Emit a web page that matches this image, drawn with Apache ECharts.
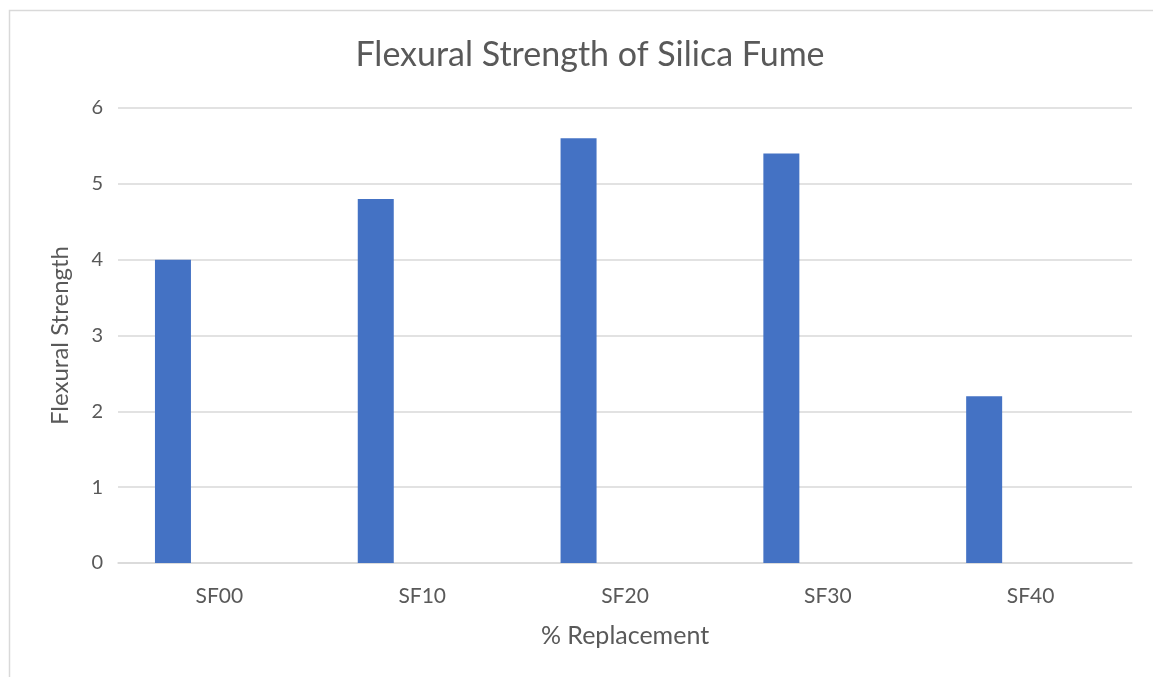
<!DOCTYPE html>
<html>
<head>
<meta charset="utf-8">
<script src="https://cdn.jsdelivr.net/npm/echarts@6/dist/echarts.min.js"></script>
<style>
html,body{margin:0;padding:0;background:#fff;}
#c{width:1153px;height:677px;}
</style>
</head>
<body>
<div id="c"></div>
<script>
const categories = ['SF00', 'SF10', 'SF20', 'SF30', 'SF40'];
const flexuralStrength = [4.0, 4.8, 5.6, 5.4, 2.2];
const emptySeriesA = [null, null, null, null, null];
const emptySeriesB = [null, null, null, null, null];
const yTicks = [0, 1, 2, 3, 4, 5, 6];

const chart = echarts.init(document.getElementById('c'), null, {renderer: 'canvas'});
const font = 'Lato, "Open Sans", sans-serif';
chart.setOption({
  animation: false,
  graphic: [{
    type: 'rect', left: 7, top: 8,
    shape: {width: 1170, height: 700},
    style: {fill: 'none', stroke: '#d9d9d9', lineWidth: 1.5}
  }],
  title: {
    text: 'Flexural Strength of Silica Fume',
    left: 585, top: 33, textAlign: 'center',
    textStyle: {fontFamily: font, fontSize: 34, fontWeight: 'normal', color: '#595959'}
  },
  grid: {left: 118, right: 21, top: 108, bottom: 114},
  xAxis: {
    type: 'category', data: categories,
    axisTick: {show: false},
    axisLine: {lineStyle: {color: '#d9d9d9', width: 1.5}},
    axisLabel: {fontFamily: font, fontSize: 21, color: '#595959', margin: 23},
    name: '% Replacement', nameLocation: 'middle', nameGap: 60,
    nameTextStyle: {fontFamily: font, fontSize: 25, color: '#595959'}
  },
  yAxis: {
    type: 'value', min: 0, max: 6, interval: 1,
    axisLine: {show: false}, axisTick: {show: false},
    splitLine: {lineStyle: {color: '#d9d9d9', width: 1.5}},
    axisLabel: {fontFamily: font, fontSize: 20, color: '#595959', margin: 15,
      formatter: v => yTicks.includes(v) ? String(v) : ''},
    name: 'Flexural Strength', nameLocation: 'middle', nameGap: 46, nameRotate: 90,
    nameTextStyle: {fontFamily: font, fontSize: 24, color: '#595959'}
  },
  series: [
    {type: 'bar', data: flexuralStrength, barWidth: 36, barGap: '29%', itemStyle: {color: '#4472C4'}},
    {type: 'bar', data: emptySeriesA, barWidth: 36, barGap: '29%'},
    {type: 'bar', data: emptySeriesB, barWidth: 36, barGap: '29%'}
  ]
});
</script>
</body>
</html>
